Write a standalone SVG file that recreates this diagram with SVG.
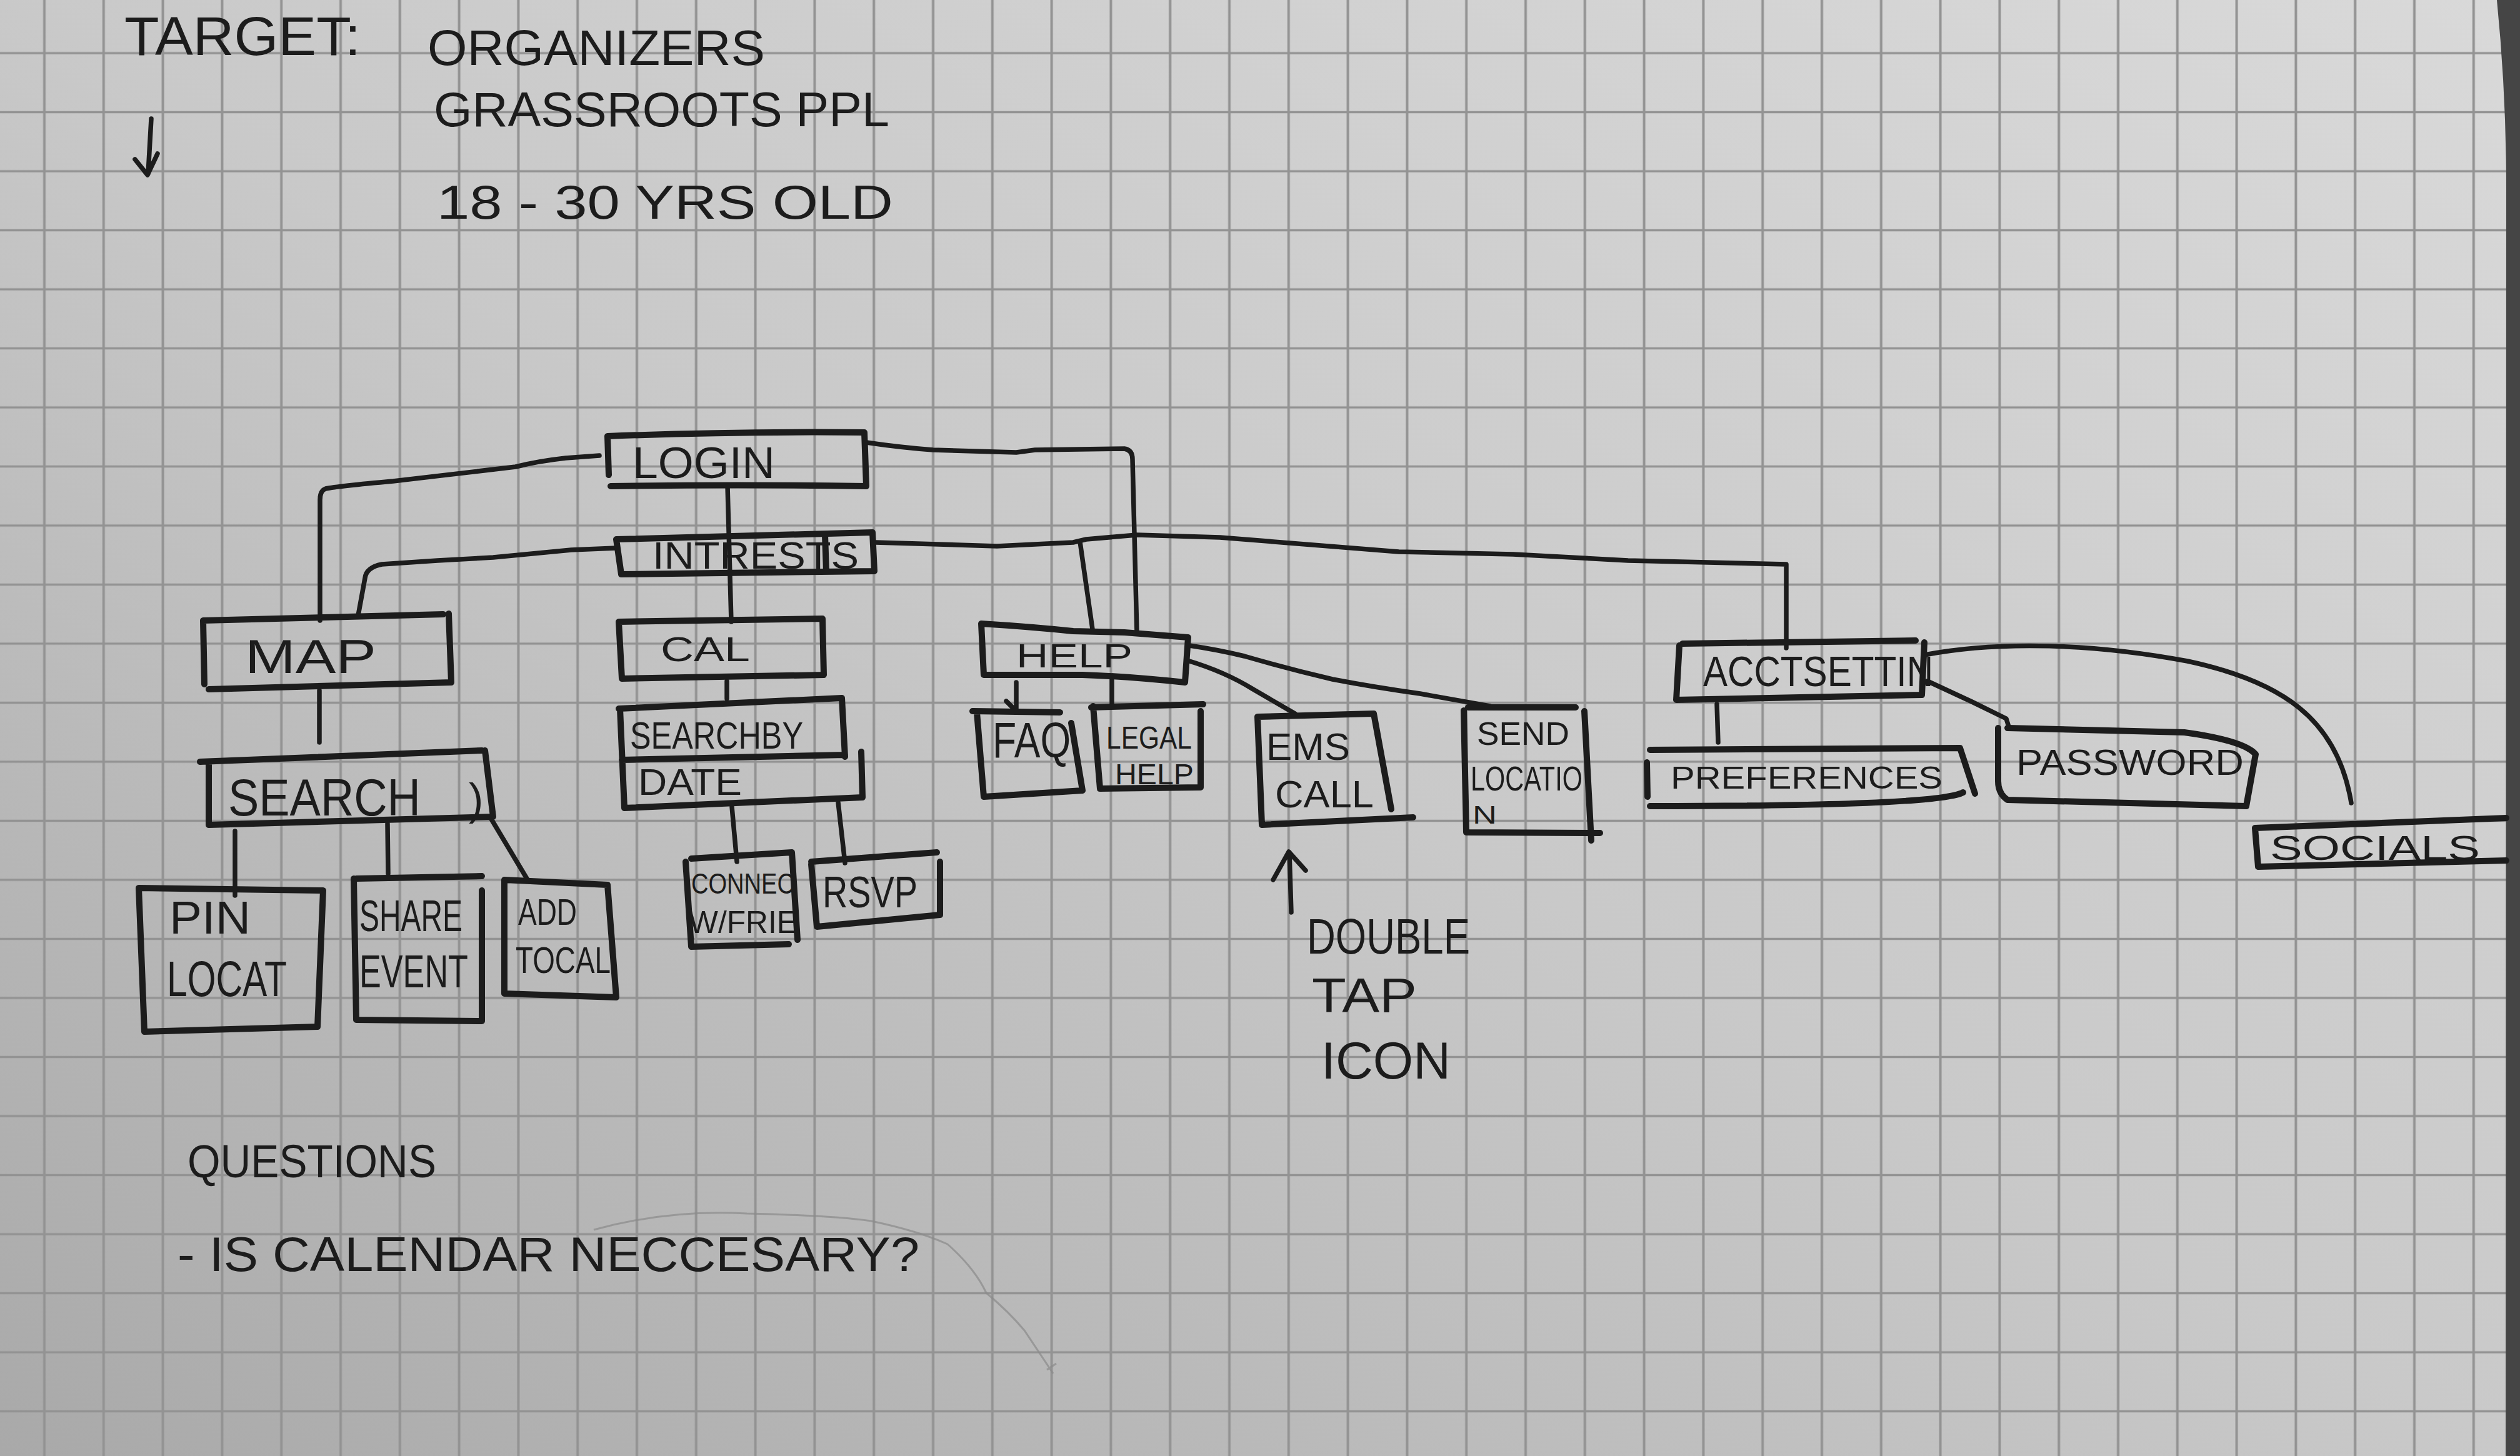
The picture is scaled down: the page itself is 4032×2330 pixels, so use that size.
<svg xmlns="http://www.w3.org/2000/svg" width="4032" height="2330" viewBox="0 0 4032 2330">
<defs>
<linearGradient id="paper" x1="1" y1="0" x2="0" y2="1">
<stop offset="0" stop-color="#d9d9d9"/>
<stop offset="0.5" stop-color="#c9c9c9"/>
<stop offset="1" stop-color="#a9a9a9"/>
</linearGradient>
<pattern id="grid" patternUnits="userSpaceOnUse" x="23.6" y="37.75" width="94.8" height="94.5">
<line x1="47.4" y1="0" x2="47.4" y2="94.5" stroke="#939393" stroke-width="4"/>
<line x1="0" y1="47.25" x2="94.8" y2="47.25" stroke="#939393" stroke-width="3.5"/>
</pattern>
<style>
.box{fill:none;stroke:#1c1c1c;stroke-width:10;stroke-linecap:round;stroke-linejoin:round}
.con{fill:none;stroke:#1c1c1c;stroke-width:7.5;stroke-linecap:round;stroke-linejoin:round}
.t{font-family:"Liberation Sans","DejaVu Sans",Arial,sans-serif;fill:#1c1c1c}
</style>
</defs>
<rect x="0" y="0" width="4032" height="2330" fill="url(#paper)"/>
<rect x="0" y="0" width="4032" height="2330" fill="url(#grid)"/>
<path d="M4032,0 L3995,0 Q4010,150 4010,300 L4009,2330 L4032,2330 Z" fill="#454545"/>

<g id="header">
<text class="t" x="199" y="88" font-size="88" textLength="378" lengthAdjust="spacingAndGlyphs">TARGET:</text>
<text class="t" x="684" y="104" font-size="80" textLength="540" lengthAdjust="spacingAndGlyphs">ORGANIZERS</text>
<text class="t" x="694" y="202" font-size="78" textLength="729" lengthAdjust="spacingAndGlyphs">GRASSROOTS PPL</text>
<text class="t" x="699" y="350" font-size="76" textLength="730" lengthAdjust="spacingAndGlyphs">18 - 30 YRS OLD</text>
<path class="con" stroke-width="5" d="M242,190 L237,278 M216,255 L236,280 L252,246"/>
</g>

<g id="connectors">
<path class="con" d="M959,729 L905,733 Q860,738 825,747 L629,770 Q540,778 521,782 Q512,785 512,800 L512,993"/>
<path class="con" d="M986,877 L914,880 L789,892 L700,897 L611,903 Q586,908 584,925 L573,985"/>
<path class="con" d="M1164,777 L1170,995"/>
<path class="con" d="M1386,708 Q1440,716 1493,720 L1626,724 L1656,720 L1799,718 Q1812,720 1812,735 L1819,1013"/>
<path class="con" d="M1401,868 L1595,874 L1717,868 L1738,863 L1819,856 L1952,860 Q2100,872 2238,883 L2421,887 L2605,897 L2858,903 L2858,1037"/>
<path class="con" d="M1728,867 L1748,1007"/>
<path class="con" d="M511,1105 L511,1188"/>
<path class="con" d="M376,1330 L376,1433"/>
<path class="con" d="M620,1318 L621,1398"/>
<path class="con" d="M785,1309 L843,1406"/>
<path class="con" d="M1163,1090 L1163,1118"/>
<path class="con" d="M1171,1291 L1179,1379"/>
<path class="con" d="M1341,1284 L1352,1381"/>
<path class="con" d="M1626,1092 L1626,1140 M1610,1122 L1626,1138"/>
<path class="con" d="M1779,1083 L1779,1130"/>
<path class="con" d="M1900,1057 Q1960,1075 2005,1103 L2072,1142"/>
<path class="con" d="M1903,1033 Q1950,1040 1991,1050 Q2060,1070 2132,1087 Q2200,1100 2272,1110 L2384,1130"/>
<path class="con" d="M2747,1127 L2749,1188"/>
<path class="con" d="M3084,1090 L3155,1123 L3210,1150 L3214,1163"/>
<path class="con" d="M3079,1048 C3200,1025 3350,1030 3500,1058 C3650,1090 3740,1150 3762,1285"/>
</g>

<g id="login">
<path class="box" d="M972,698 Q1180,690 1383,692 L1386,778 Q1180,775 977,778 M972,698 L974,760"/>
<text class="t" x="1012" y="765" font-size="70" textLength="228" lengthAdjust="spacingAndGlyphs">LOGIN</text>
</g>
<g id="intrests">
<path class="box" d="M986,863 L1396,852 L1399,914 L994,919 Z M1320,856 L1322,915"/>
<text class="t" x="1044" y="910" font-size="62" textLength="330" lengthAdjust="spacingAndGlyphs">INTRESTS</text>
</g>
<g id="map">
<path class="box" d="M325,993 L709,983 M718,982 L722,1092 L334,1103 M325,993 L327,1095"/>
<text class="t" x="392" y="1077" font-size="76" textLength="210" lengthAdjust="spacingAndGlyphs">MAP</text>
</g>
<g id="cal">
<path class="box" d="M990,995 L1316,990 L1318,1080 L995,1086 Z"/>
<text class="t" x="1057" y="1058" font-size="56" textLength="143" lengthAdjust="spacingAndGlyphs">CAL</text>
</g>
<g id="help">
<path class="box" d="M1570,998 Q1650,1003 1717,1010 L1799,1012 L1901,1020 L1896,1092 Q1800,1082 1732,1080 L1574,1080 L1570,998"/>
<text class="t" x="1626" y="1068" font-size="54" textLength="186" lengthAdjust="spacingAndGlyphs">HELP</text>
</g>
<g id="acctsettin">
<path class="box" d="M2692,1030 L3065,1025 M3079,1028 L3075,1112 L2682,1120 L2687,1033"/>
<text class="t" x="2725" y="1098" font-size="68" textLength="368" lengthAdjust="spacingAndGlyphs">ACCTSETTIN</text>
</g>
<g id="search">
<path class="box" d="M320,1219 L771,1201 M776,1201 L789,1307 L334,1320 L334,1222"/>
<text class="t" x="365" y="1305" font-size="84" textLength="308" lengthAdjust="spacingAndGlyphs">SEARCH</text>
<text class="t" x="750" y="1303" font-size="70">)</text>
</g>
<g id="searchbydate">
<path class="box" d="M990,1134 L1347,1117 L1352,1211 M995,1216 L1352,1208 M1378,1203 L1380,1276 L999,1293 M992,1134 L999,1293"/>
<text class="t" x="1008" y="1198" font-size="62" textLength="277" lengthAdjust="spacingAndGlyphs">SEARCHBY</text>
<text class="t" x="1021" y="1272" font-size="60" textLength="166" lengthAdjust="spacingAndGlyphs">DATE</text>
</g>
<g id="pinlocat">
<path class="box" d="M222,1421 L517,1425 L508,1643 L231,1651 Z"/>
<text class="t" x="271" y="1494" font-size="74" textLength="130" lengthAdjust="spacingAndGlyphs">PIN</text>
<text class="t" x="267" y="1594" font-size="80" textLength="192" lengthAdjust="spacingAndGlyphs">LOCAT</text>
</g>
<g id="shareevent">
<path class="box" d="M570,1406 L771,1402 M771,1425 L771,1634 L570,1632 L566,1406"/>
<text class="t" x="575" y="1490" font-size="70" textLength="165" lengthAdjust="spacingAndGlyphs">SHARE</text>
<text class="t" x="575" y="1580" font-size="74" textLength="174" lengthAdjust="spacingAndGlyphs">EVENT</text>
</g>
<g id="addtocal">
<path class="box" d="M807,1408 L972,1416 L986,1596 L807,1590 Z"/>
<text class="t" x="829" y="1480" font-size="60" textLength="94" lengthAdjust="spacingAndGlyphs">ADD</text>
<text class="t" x="825" y="1557" font-size="60" textLength="152" lengthAdjust="spacingAndGlyphs">TOCAL</text>
</g>
<g id="connect">
<path class="box" d="M1106,1374 L1267,1364 L1276,1504 M1262,1511 L1106,1515 L1097,1379"/>
<text class="t" x="1106" y="1430" font-size="46" textLength="165" lengthAdjust="spacingAndGlyphs">CONNEC</text>
<text class="t" x="1102" y="1493" font-size="50" textLength="174" lengthAdjust="spacingAndGlyphs">W/FRIE</text>
</g>
<g id="rsvp">
<path class="box" d="M1298,1379 L1499,1364 M1504,1379 L1504,1464 L1307,1483 L1298,1383"/>
<text class="t" x="1316" y="1452" font-size="70" textLength="152" lengthAdjust="spacingAndGlyphs">RSVP</text>
</g>
<g id="faq">
<path class="box" d="M1556,1138 L1696,1140 M1714,1157 L1732,1265 L1574,1275 L1563,1140"/>
<text class="t" x="1588" y="1212" font-size="80" textLength="125" lengthAdjust="spacingAndGlyphs">FAQ</text>
</g>
<g id="legalhelp">
<path class="box" d="M1746,1132 L1925,1127 M1921,1138 L1921,1260 L1760,1262 L1749,1130"/>
<text class="t" x="1770" y="1198" font-size="50" textLength="137" lengthAdjust="spacingAndGlyphs">LEGAL</text>
<text class="t" x="1784" y="1255" font-size="46" textLength="126" lengthAdjust="spacingAndGlyphs">HELP</text>
</g>
<g id="emscall">
<path class="box" d="M2012,1147 L2198,1142 L2226,1295 M2261,1308 L2019,1320 L2012,1147"/>
<text class="t" x="2026" y="1216" font-size="62" textLength="134" lengthAdjust="spacingAndGlyphs">EMS</text>
<text class="t" x="2040" y="1292" font-size="62" textLength="158" lengthAdjust="spacingAndGlyphs">CALL</text>
</g>
<g id="sendlocation">
<path class="box" d="M2349,1132 L2521,1132 M2535,1138 L2546,1345 M2560,1333 L2346,1332 L2342,1137"/>
<text class="t" x="2363" y="1192" font-size="52" textLength="148" lengthAdjust="spacingAndGlyphs">SEND</text>
<text class="t" x="2353" y="1265" font-size="56" textLength="179" lengthAdjust="spacingAndGlyphs">LOCATIO</text>
<text class="t" x="2356" y="1318" font-size="40" textLength="39" lengthAdjust="spacingAndGlyphs">N</text>
</g>
<g id="preferences">
<path class="box" d="M2640,1200 L3136,1197 L3160,1270 M3141,1268 Q3100,1290 2640,1290 M2635,1220 L2636,1275"/>
<text class="t" x="2673" y="1262" font-size="50" textLength="435" lengthAdjust="spacingAndGlyphs">PREFERENCES</text>
</g>
<g id="password">
<path class="box" d="M3212,1165 L3495,1172 Q3590,1185 3609,1207 L3594,1290 L3212,1280 Q3197,1270 3197,1250 L3197,1165"/>
<text class="t" x="3226" y="1240" font-size="58" textLength="364" lengthAdjust="spacingAndGlyphs">PASSWORD</text>
</g>
<g id="socials">
<path class="box" d="M3608,1325 L4010,1309 M3613,1387 L4010,1377 M3608,1325 L3613,1387"/>
<text class="t" x="3632" y="1376" font-size="56" textLength="336" lengthAdjust="spacingAndGlyphs">SOCIALS</text>
</g>

<g id="note-double-tap">
<path class="con" stroke-width="5" d="M2066,1460 L2063,1364 M2037,1408 L2062,1363 L2089,1393"/>
<text class="t" x="2091" y="1526" font-size="80" textLength="261" lengthAdjust="spacingAndGlyphs">DOUBLE</text>
<text class="t" x="2099" y="1620" font-size="78" textLength="168" lengthAdjust="spacingAndGlyphs">TAP</text>
<text class="t" x="2114" y="1726" font-size="84" textLength="207" lengthAdjust="spacingAndGlyphs">ICON</text>
</g>

<g id="questions">
<text class="t" x="300" y="1884" font-size="74" textLength="398" lengthAdjust="spacingAndGlyphs">QUESTIONS</text>
<text class="t" x="284" y="2034" font-size="78" textLength="1187" lengthAdjust="spacingAndGlyphs">- IS CALENDAR NECCESARY?</text>
<path d="M950,1968 Q1070,1935 1195,1942 Q1330,1945 1394,1954 Q1470,1970 1516,1991 Q1560,2030 1578,2069 Q1615,2100 1639,2129 L1685,2198 M1675,2192 L1690,2182" fill="none" stroke="#8a8a8a" stroke-width="3" opacity="0.7"/>
</g>
</svg>
